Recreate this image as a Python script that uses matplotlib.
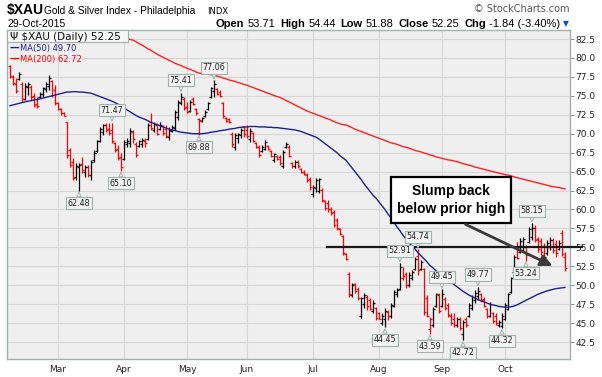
import numpy as np
import pandas as pd
import matplotlib
matplotlib.use("Agg")
import matplotlib.pyplot as plt
from matplotlib.patches import Rectangle

# trading days shown on the chart
holidays = ["2015-02-16", "2015-04-03", "2015-05-25", "2015-07-03", "2015-09-07"]
dates = pd.bdate_range("2015-02-05", "2015-10-29")
dates = dates[~dates.isin(pd.to_datetime(holidays))]

opens = [78.9, 77.5, 76.6, 77.2, 76.6, 74.6, 76.2, 76.2, 75.0, 73.9,
         74.8, 75.2, 75.9, 76.3, 77.0, 75.8, 74.0, 73.3, 72.7, 71.5,
         67.9, 66.3, 64.3, 65.6, 66.0, 65.0, 65.6, 64.5, 66.5, 67.7,
         69.0, 70.2, 71.2, 70.6, 70.5, 68.8, 68.0, 66.9, 66.6, 68.6,
         68.8, 70.2, 68.7, 68.4, 68.6, 69.1, 69.3, 71.5, 70.5, 71.2,
         70.6, 71.0, 70.6, 69.5, 70.4, 70.8, 72.2, 74.0, 74.6, 73.5,
         73.0, 74.6, 73.3, 71.9, 71.7, 72.3, 73.2, 74.8, 75.6, 75.9,
         75.5, 74.0, 72.1, 71.9, 70.0, 68.3, 69.4, 69.8, 70.9, 70.5,
         69.3, 70.1, 68.8, 68.2, 67.7, 68.0, 68.4, 67.7, 66.5, 67.1,
         66.9, 65.8, 68.2, 68.3, 66.1, 65.7, 66.3, 65.4, 65.0, 64.6,
         64.0, 62.0, 62.8, 62.5, 62.6, 61.1, 60.8, 60.1, 59.6, 58.6,
         57.4, 56.5, 54.1, 51.5, 48.7, 50.1, 49.5, 46.0, 47.5, 48.5,
         48.0, 46.6, 47.0, 46.3, 45.0, 45.6, 46.5, 45.9, 47.3, 48.9,
         49.5, 51.0, 51.5, 50.0, 51.0, 52.1, 53.8, 52.2, 52.2, 48.3,
         44.2, 44.8, 47.2, 48.7, 47.2, 48.2, 47.4, 46.0, 45.5, 44.7,
         45.6, 43.5, 45.5, 45.9, 47.0, 48.0, 48.6, 48.8, 48.2, 46.9,
         46.0, 46.3, 45.9, 44.8, 44.6, 45.6, 46.9, 49.1, 51.8, 55.0,
         54.4, 55.2, 55.0, 55.7, 56.4, 57.5, 56.1, 55.8, 55.2, 54.2,
         55.0, 56.0, 55.5, 54.8, 56.9, 53.71]

highs = [79.1, 77.8, 77.4, 78.1, 76.8, 76.7, 76.8, 76.4, 75.4, 74.85,
         75.5, 76.2, 76.8, 77.75, 77.1, 76.4, 74.2, 73.4, 72.8, 71.55,
         68.1, 66.8, 66.1, 66.1, 66.9, 65.9, 65.9, 66.5, 67.8, 69.2,
         70.9, 71.3, 71.4, 71.35, 71.47, 68.9, 68.5, 67.45, 69.2, 69.4,
         70.75, 70.5, 68.9, 69.2, 69.4, 69.4, 71.4, 72.7, 71.55, 71.4,
         71.55, 71.15, 71.15, 70.9, 71.15, 73.1, 74.45, 75.41, 74.85, 74.2,
         74.45, 74.85, 73.4, 72.1, 72.2, 73.1, 74.2, 76.2, 77.06, 76.0,
         75.8, 74.2, 72.2, 72.07, 70.2, 70.1, 70.1, 70.75, 71.0, 71.15,
         70.75, 70.2, 68.9, 68.5, 68.5, 69.2, 68.5, 67.85, 67.45, 67.2,
         67.2, 67.85, 68.9, 68.5, 66.25, 66.5, 66.5, 65.5, 65.2, 64.8,
         64.3, 63.2, 64.15, 64.15, 62.8, 61.25, 61.25, 60.3, 59.9, 58.9,
         57.55, 56.6, 54.25, 51.7, 50.3, 50.3, 49.8, 48.4, 49.0, 48.7,
         48.3, 48.05, 47.1, 46.5, 46.3, 47.0, 46.7, 47.65, 49.4, 49.6,
         52.91, 52.4, 51.75, 51.75, 52.0, 53.7, 54.74, 53.3, 52.3, 48.7,
         45.8, 47.1, 49.0, 49.0, 49.45, 48.4, 47.65, 46.3, 46.3, 45.8,
         45.8, 45.4, 45.8, 47.65, 48.7, 49.4, 49.77, 49.0, 48.4, 47.0,
         47.8, 46.5, 46.3, 45.4, 46.3, 47.65, 49.0, 51.1, 54.0, 55.7,
         56.2, 56.4, 55.3, 57.7, 58.15, 57.9, 56.4, 56.2, 55.6, 56.0,
         56.4, 56.2, 56.0, 56.0, 57.3, 54.44]

lows = [77.4, 76.4, 75.4, 77.1, 74.2, 74.45, 75.1, 74.45, 73.5, 73.4,
        74.7, 74.85, 75.5, 75.8, 74.85, 73.8, 73.1, 72.5, 72.3, 66.8,
        65.6, 63.9, 63.9, 62.48, 64.8, 64.3, 64.3, 63.9, 66.3, 67.6,
        68.9, 69.8, 70.2, 69.8, 68.8, 67.6, 66.5, 65.10, 66.5, 68.25,
        68.25, 68.8, 66.9, 68.25, 68.25, 68.25, 69.2, 70.5, 70.2, 69.8,
        70.5, 69.8, 69.4, 69.2, 70.2, 70.5, 71.8, 73.8, 73.1, 72.7,
        72.9, 73.8, 72.5, 69.88, 71.55, 72.2, 73.1, 74.7, 74.9, 75.1,
        74.85, 72.07, 71.55, 71.4, 68.2, 67.85, 68.8, 69.4, 69.6, 69.4,
        68.9, 68.9, 68.1, 66.9, 67.6, 67.85, 67.85, 66.9, 66.25, 66.5,
        65.9, 65.5, 68.1, 66.9, 65.5, 65.5, 65.5, 64.8, 64.55, 63.6,
        62.6, 61.6, 62.3, 62.2, 61.0, 59.9, 59.7, 59.3, 57.7, 57.3,
        56.6, 54.0, 53.3, 48.4, 48.4, 49.0, 48.05, 45.7, 47.0, 46.7,
        46.7, 46.3, 45.4, 45.5, 44.75, 44.45, 45.4, 45.7, 47.1, 48.4,
        49.4, 50.7, 49.6, 49.8, 50.7, 52.0, 51.35, 52.0, 46.1, 45.8,
        43.59, 44.5, 47.1, 46.3, 47.1, 46.7, 45.8, 44.75, 44.5, 44.5,
        44.1, 42.72, 44.5, 45.8, 46.7, 47.65, 48.05, 47.8, 47.1, 45.7,
        45.8, 45.0, 44.75, 44.5, 44.32, 45.4, 46.7, 49.0, 51.7, 53.5,
        54.25, 54.4, 53.24, 55.6, 55.96, 55.7, 54.4, 54.0, 53.3, 54.0,
        54.65, 54.25, 53.7, 54.6, 53.9, 51.88]

closes = [77.6, 76.7, 75.7, 77.9, 74.6, 76.3, 76.5, 74.8, 73.8, 73.6,
          75.3, 76.0, 76.6, 77.4, 75.1, 74.1, 73.3, 72.7, 72.4, 67.2,
          65.9, 64.2, 65.7, 65.9, 65.2, 65.6, 64.6, 66.3, 67.5, 69.0,
          70.6, 71.2, 70.5, 70.1, 69.0, 67.8, 66.8, 65.6, 68.9, 69.1,
          70.4, 69.3, 67.2, 69.0, 69.2, 68.8, 71.1, 70.8, 71.3, 70.0,
          71.2, 70.1, 69.7, 70.5, 70.9, 72.9, 74.2, 74.9, 73.4, 72.9,
          74.2, 73.9, 72.7, 71.8, 72.1, 72.9, 74.0, 76.0, 76.6, 75.3,
          75.0, 72.3, 71.7, 71.5, 68.6, 69.8, 70.0, 70.5, 70.0, 69.7,
          70.4, 69.1, 68.3, 67.2, 68.2, 68.9, 68.0, 67.1, 67.3, 66.7,
          66.1, 67.6, 68.7, 67.0, 65.7, 66.2, 65.8, 65.0, 64.7, 63.9,
          62.9, 63.0, 63.9, 64.0, 61.3, 60.2, 60.0, 59.5, 58.0, 57.6,
          56.8, 54.3, 53.5, 48.8, 50.0, 49.3, 48.3, 48.35, 48.7, 47.2,
          46.9, 47.6, 45.7, 45.6, 46.0, 46.6, 45.9, 47.4, 49.1, 49.4,
          52.4, 51.2, 50.0, 51.4, 51.8, 53.5, 52.0, 53.0, 46.5, 46.0,
          45.6, 46.9, 48.8, 46.6, 48.9, 47.0, 46.1, 45.0, 44.8, 45.5,
          44.4, 45.1, 44.8, 47.4, 48.4, 49.0, 49.3, 48.0, 47.3, 45.9,
          47.5, 45.3, 45.0, 45.2, 46.0, 47.4, 48.8, 50.9, 53.7, 53.6,
          55.8, 56.1, 54.0, 57.4, 57.6, 56.0, 54.8, 54.4, 53.7, 55.6,
          56.0, 54.6, 54.2, 55.6, 54.09, 52.25]

ma50 = [73.7, 73.8, 73.9, 74.0, 74.1, 74.2, 74.3, 74.35, 74.45, 74.5,
        74.6, 74.7, 74.8, 74.9, 75.0, 75.1, 75.2, 75.3, 75.4, 75.5,
        75.5, 75.55, 75.55, 75.5, 75.5, 75.45, 75.4, 75.35, 75.2, 75.05,
        74.9, 74.75, 74.6, 74.45, 74.3, 74.1, 73.9, 73.65, 73.4, 73.15,
        72.9, 72.65, 72.4, 72.2, 72.05, 71.9, 71.7, 71.5, 71.35, 71.2,
        71.05, 70.9, 70.75, 70.6, 70.5, 70.4, 70.3, 70.2, 70.15, 70.1,
        70.05, 70.0, 70.0, 70.0, 70.0, 70.05, 70.1, 70.2, 70.25, 70.3,
        70.4, 70.45, 70.5, 70.6, 70.65, 70.7, 70.8, 70.85, 70.9, 70.9,
        70.95, 70.95, 70.95, 70.9, 70.9, 70.9, 70.85, 70.85, 70.8, 70.8,
        70.75, 70.7, 70.65, 70.6, 70.55, 70.5, 70.4, 70.3, 70.15, 70.0,
        69.85, 69.7, 69.55, 69.3, 69.0, 68.7, 68.4, 68.1, 67.8, 67.5,
        67.1, 66.8, 66.5, 66.0, 65.5, 65.0, 64.5, 64.0, 63.4, 62.9,
        62.4, 61.9, 61.5, 61.0, 60.5, 60.0, 59.4, 58.9, 58.3, 57.7,
        57.2, 56.6, 56.1, 55.6, 55.2, 54.8, 54.3, 53.9, 53.5, 53.1,
        52.6, 52.3, 51.9, 51.6, 51.3, 51.0, 50.7, 50.4, 50.1, 49.8,
        49.5, 49.2, 48.95, 48.7, 48.5, 48.3, 48.1, 47.95, 47.8, 47.65,
        47.5, 47.4, 47.3, 47.2, 47.15, 47.1, 47.1, 47.15, 47.25, 47.4,
        47.6, 47.8, 48.0, 48.2, 48.4, 48.6, 48.8, 48.95, 49.1, 49.25,
        49.35, 49.45, 49.55, 49.6, 49.65, 49.70]

ma200 = [87.4, 87.3, 87.2, 87.1, 87.0, 86.9, 86.8, 86.6, 86.5, 86.4,
         86.3, 86.2, 86.0, 85.9, 85.8, 85.7, 85.6, 85.4, 85.3, 85.2,
         85.1, 85.0, 84.9, 84.8, 84.6, 84.5, 84.4, 84.2, 84.1, 84.0,
         83.8, 83.7, 83.6, 83.4, 83.3, 83.1, 83.0, 82.85, 82.7, 82.55,
         82.45, 82.35, 82.15, 81.9, 81.7, 81.45, 81.2, 81.0, 80.75, 80.5,
         80.3, 80.1, 79.9, 79.7, 79.5, 79.3, 79.15, 79.0, 78.8, 78.65,
         78.5, 78.35, 78.15, 78.0, 77.95, 77.9, 77.85, 77.8, 77.75, 77.6,
         77.5, 77.35, 77.25, 77.1, 77.0, 76.9, 76.75, 76.65, 76.5, 76.4,
         76.25, 76.1, 75.95, 75.8, 75.65, 75.5, 75.35, 75.2, 75.05, 74.9,
         74.8, 74.6, 74.4, 74.2, 74.0, 73.8, 73.6, 73.4, 73.2, 73.0,
         72.85, 72.7, 72.55, 72.4, 72.25, 72.1, 71.95, 71.8, 71.6, 71.45,
         71.3, 71.2, 71.15, 71.0, 70.8, 70.6, 70.45, 70.3, 70.15, 70.0,
         69.85, 69.7, 69.55, 69.4, 69.25, 69.1, 68.95, 68.8, 68.7, 68.6,
         68.45, 68.3, 68.2, 68.1, 67.95, 67.8, 67.7, 67.6, 67.45, 67.35,
         67.2, 67.1, 66.95, 66.85, 66.75, 66.65, 66.55, 66.5, 66.4, 66.3,
         66.2, 66.05, 65.95, 65.85, 65.75, 65.6, 65.5, 65.4, 65.3, 65.2,
         65.1, 65.0, 64.9, 64.8, 64.7, 64.6, 64.55, 64.45, 64.3, 64.2,
         64.1, 64.0, 63.9, 63.8, 63.7, 63.6, 63.5, 63.4, 63.3, 63.2,
         63.1, 63.0, 62.95, 62.9, 62.8, 62.72]

# swing points that carry a value tag
high_tags = [34, 57, 68, 130, 136, 144, 156, 174]
low_tags = [23, 37, 63, 125, 140, 151, 164, 172]
prior_high = 55.0

W, H = 602, 377
fig = plt.figure(figsize=(W / 100, H / 100), dpi=100)
ax = fig.add_axes([7 / W, 1 - 359 / H, 563 / W, 329 / H])
ax.set_facecolor("#efefef")

x = np.arange(len(closes))
o = np.array(opens); h = np.array(highs); l = np.array(lows); c = np.array(closes)
prev = np.r_[o[0], c[:-1]]
cols = np.where(c < prev, "#ff0000", "#000000")

ax.vlines(x, l, h, colors=cols, lw=0.9, zorder=2)
ax.hlines(o, x - 0.75, x, colors=cols, lw=0.9, zorder=2)
ax.hlines(c, x, x + 0.75, colors=cols, lw=0.9, zorder=2)

ax.plot(x, ma50, color="#1f1f8f", lw=1.0, zorder=3)
ax.plot(x, ma200, color="#ff2020", lw=1.0, zorder=3)

ax.set_xlim(-1, 186.7)
ax.set_ylim(40.26, 83.69)

# axes / grid
months = pd.Series(dates.month)
first = [i for i in range(1, len(dates)) if months[i] != months[i - 1]]
ax.set_xticks(first)
ax.set_xticklabels([dates[i].strftime("%b") for i in first])
ax.set_yticks(np.arange(42.5, 83, 2.5))
ax.yaxis.tick_right()
ax.yaxis.set_major_formatter(matplotlib.ticker.FormatStrFormatter("%.1f"))
ax.tick_params(axis="y", length=3, width=0.8, color="#8a9a94", labelsize=6.5, pad=1, labelcolor="#222222")
ax.tick_params(axis="x", length=0, labelsize=6.5, pad=4, labelcolor="#222222")
ax.grid(True, color="#d6d6d6", lw=0.8, zorder=0)
ax.set_axisbelow(True)
for s in ax.spines.values():
    s.set_color("#9fb3ab")
    s.set_linewidth(1.0)

# value tags
tag_box = dict(boxstyle="square,pad=0.2", fc="#f3f3f3", ec="#9fb3ab", lw=0.8)
tag_arrow = dict(arrowstyle="wedge,tail_width=0.5,shrink_factor=0.5", fc="#f3f3f3", ec="#9fb3ab", lw=0.7, shrinkA=0, shrinkB=1)
for i in high_tags:
    ax.annotate(f"{highs[i]:.2f}", xy=(i, highs[i]), xytext=(0, 8), textcoords="offset pixels",
                ha="center", va="bottom", fontsize=5.8, color="#222222", bbox=tag_box, arrowprops=tag_arrow, zorder=5)
for i in low_tags:
    ax.annotate(f"{lows[i]:.2f}", xy=(i, lows[i]), xytext=(0, -8), textcoords="offset pixels",
                ha="center", va="top", fontsize=5.8, color="#222222", bbox=tag_box, arrowprops=tag_arrow, zorder=5)

# prior high line, callout and arrow
ax.plot([105.7, 190.6], [prior_high, prior_high], color="#1a1a1a", lw=1.6, zorder=4, clip_on=False)
ax.add_patch(Rectangle((127, 58.2), 40, 6.08, fc="white", ec="black", lw=1.6, zorder=6))
ax.text(147, 61.25, "Slump back\nbelow prior high", ha="center", va="center", fontsize=10,
        family="Liberation Sans", fontweight="bold", linespacing=1.3, zorder=7)
ax.annotate("", xy=(181.7, 52.4), xytext=(151, 58.2),
            arrowprops=dict(arrowstyle="-|>,head_length=0.7,head_width=0.35", color="#3a3a3a", lw=2.0), zorder=6)

# in-chart legend
fig.patches.append(Rectangle((7 / W, 1 - 42 / H), 121 / W, 12 / H, transform=fig.transFigure,
                             fc="#f6f6f6", ec="#9fb3ab", lw=0.8, zorder=1))
fig.text(10 / W, 1 - 40 / H, "\u03a8 $XAU (Daily) 52.25", fontsize=7.5, color="#111111", zorder=2)
fig.text(9 / W, 1 - 51 / H, "\u2014", fontsize=7, color="#1f1f8f", fontweight="bold", zorder=2)
fig.text(20 / W, 1 - 51 / H, "MA(50) 49.70", fontsize=6, color="#1f1f8f", zorder=2)
fig.text(9 / W, 1 - 62 / H, "\u2014", fontsize=7, color="#ff0000", fontweight="bold", zorder=2)
fig.text(20 / W, 1 - 62 / H, "MA(200) 62.72", fontsize=6, color="#ff0000", zorder=2)

# header
fig.text(7 / W, 1 - 14 / H, "$XAU", fontsize=10, fontweight="bold", family="Liberation Sans")
fig.text(44 / W, 1 - 14 / H, "Gold & Silver Index - Philadelphia", fontsize=7.3, family="Liberation Sans")
fig.text(207 / W, 1 - 14 / H, "INDX", fontsize=6.0, family="DejaVu Sans")
fig.text(7 / W, 1 - 27 / H, "29-Oct-2015", fontsize=7.5, family="Liberation Sans")
fig.text(570 / W, 1 - 12 / H, "\u00a9 StockCharts.com", fontsize=7, color="#555555", ha="right")

renderer = fig.canvas.get_renderer()
pieces = [("Open", True), ("53.71", False), ("High", True), ("54.44", False), ("Low", True),
          ("51.88", False), ("Close", True), ("52.25", False), ("Chg", True), ("-1.84 (-3.40%)", False)]
xpos = 216
for k, (s, bold) in enumerate(pieces):
    t = fig.text(xpos / W, 1 - 27 / H, s, fontsize=8, family="Liberation Sans",
                 fontweight="bold" if bold else "normal")
    w = t.get_window_extent(renderer=renderer).width
    xpos += w + (3 if bold else 5)
fig.text((xpos - 3) / W, 1 - 26 / H, "\u25bc", fontsize=5.5, color="#2040e0")

fig.savefig("out.png", dpi=100)
